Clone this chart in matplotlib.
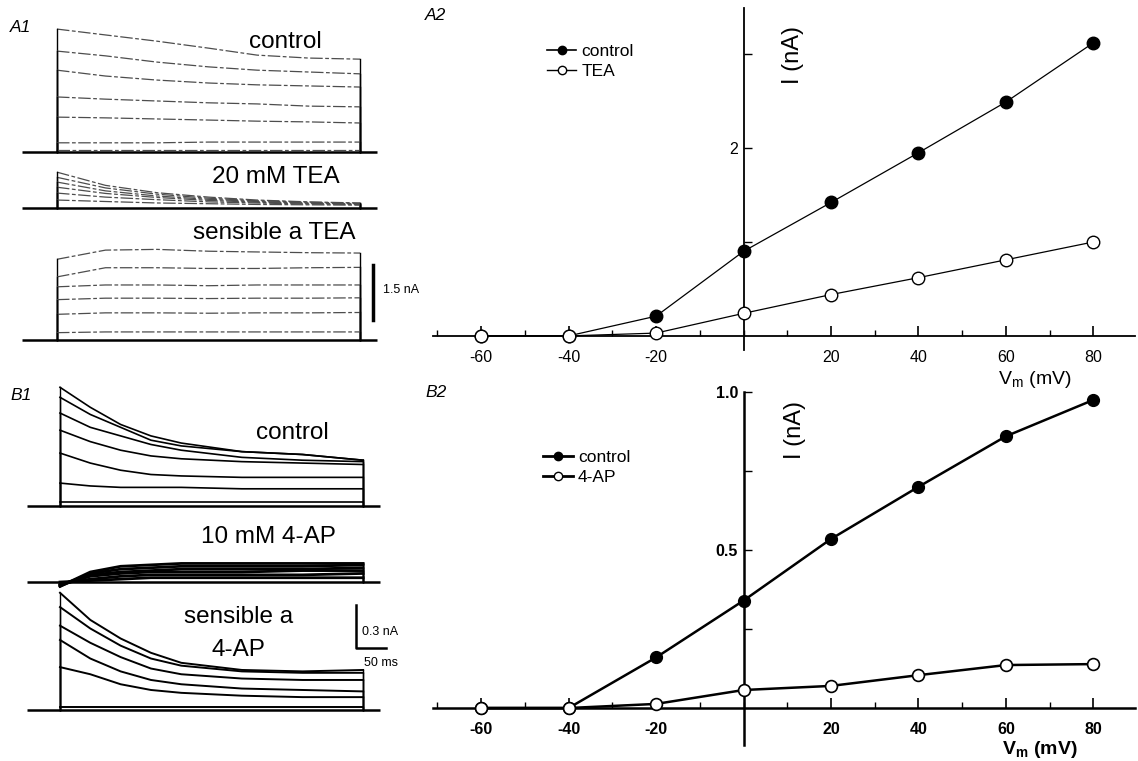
import numpy as np
import matplotlib.pyplot as plt
from matplotlib.lines import Line2D

plt.rcParams['font.family'] = ['Liberation Sans', 'DejaVu Sans']
plt.rcParams['mathtext.fontset'] = 'custom'
plt.rcParams['mathtext.rm'] = 'Liberation Sans'
plt.rcParams['mathtext.bf'] = 'Liberation Sans:bold'
plt.rcParams['axes.unicode_minus'] = False

W, H = 1138, 761

# ---- I-V data (nA) ----
vm = [-60, -40, -20, 0, 20, 40, 60, 80]
iv_ctrl_a = [0.0, 0.0, 0.21, 0.90, 1.42, 1.95, 2.49, 3.12]
iv_tea = [0.0, 0.0, 0.03, 0.24, 0.44, 0.62, 0.81, 1.00]
iv_ctrl_b = [0.0, 0.0, 0.16, 0.34, 0.535, 0.70, 0.86, 0.975]
iv_4ap = [0.0, 0.0, 0.013, 0.057, 0.07, 0.104, 0.136, 0.139]
vm_ticks = [-60, -40, -20, 20, 40, 60, 80]

# ---- current traces (nA), sampled during the 500 ms step ----
t_a = [0, 80, 165, 250, 330, 415, 500]
a1_control = [
    [3.35, 3.19, 3.02, 2.83, 2.64, 2.56, 2.53],
    [2.75, 2.62, 2.45, 2.32, 2.23, 2.18, 2.13],
    [2.23, 2.07, 1.96, 1.88, 1.83, 1.80, 1.77],
    [1.50, 1.44, 1.39, 1.34, 1.31, 1.25, 1.23],
    [0.95, 0.93, 0.90, 0.87, 0.84, 0.82, 0.79],
    [0.25, 0.25, 0.25, 0.27, 0.27, 0.27, 0.27],
    [0.05, 0.05, 0.05, 0.05, 0.05, 0.05, 0.05],
]
a1_tea = [
    [0.98, 0.62, 0.42, 0.30, 0.22, 0.17, 0.14],
    [0.84, 0.55, 0.38, 0.27, 0.20, 0.16, 0.13],
    [0.71, 0.47, 0.33, 0.24, 0.18, 0.14, 0.12],
    [0.57, 0.40, 0.29, 0.21, 0.16, 0.13, 0.11],
    [0.41, 0.30, 0.23, 0.17, 0.14, 0.11, 0.10],
    [0.22, 0.18, 0.14, 0.12, 0.10, 0.09, 0.08],
]
a1_sens = [
    [2.20, 2.45, 2.47, 2.42, 2.40, 2.38, 2.37],
    [1.72, 1.97, 1.97, 1.95, 1.95, 1.97, 1.98],
    [1.45, 1.50, 1.50, 1.48, 1.50, 1.50, 1.50],
    [1.10, 1.14, 1.14, 1.13, 1.14, 1.14, 1.15],
    [0.70, 0.74, 0.74, 0.73, 0.74, 0.74, 0.75],
    [0.20, 0.22, 0.22, 0.22, 0.22, 0.22, 0.22],
]

t_b = [0, 50, 100, 150, 200, 300, 400, 500]
b1_control = [
    [0.83, 0.69, 0.57, 0.49, 0.44, 0.38, 0.36, 0.32],
    [0.76, 0.64, 0.55, 0.46, 0.42, 0.38, 0.36, 0.32],
    [0.65, 0.55, 0.49, 0.43, 0.39, 0.34, 0.32, 0.31],
    [0.53, 0.45, 0.39, 0.35, 0.33, 0.31, 0.30, 0.29],
    [0.37, 0.30, 0.25, 0.22, 0.21, 0.20, 0.20, 0.20],
    [0.16, 0.14, 0.13, 0.13, 0.13, 0.12, 0.12, 0.12],
    [0.03, 0.03, 0.03, 0.03, 0.03, 0.03, 0.03, 0.03],
]
b1_4ap = [
    [-0.03, 0.07, 0.11, 0.12, 0.13, 0.13, 0.13, 0.13],
    [-0.03, 0.06, 0.09, 0.10, 0.11, 0.11, 0.11, 0.12],
    [-0.02, 0.05, 0.07, 0.08, 0.09, 0.09, 0.09, 0.10],
    [-0.02, 0.04, 0.06, 0.07, 0.07, 0.07, 0.08, 0.08],
    [-0.01, 0.02, 0.04, 0.05, 0.05, 0.05, 0.05, 0.06],
    [0.00, 0.01, 0.02, 0.03, 0.03, 0.03, 0.03, 0.03],
]
b1_sens = [
    [0.82, 0.63, 0.50, 0.40, 0.33, 0.28, 0.27, 0.28],
    [0.72, 0.57, 0.45, 0.36, 0.31, 0.27, 0.26, 0.26],
    [0.59, 0.47, 0.37, 0.29, 0.25, 0.22, 0.21, 0.21],
    [0.49, 0.36, 0.27, 0.21, 0.18, 0.15, 0.14, 0.13],
    [0.30, 0.25, 0.18, 0.14, 0.12, 0.10, 0.09, 0.09],
    [0.02, 0.02, 0.02, 0.02, 0.02, 0.02, 0.02, 0.02],
]


def rect(l, t, r, b):
    return [l / W, 1 - b / H, (r - l) / W, (b - t) / H]


def ftext(x, y, s, **kw):
    fig.text(x / W, 1 - y / H, s, **kw)


def draw_group(ax, t, traces, base, t0, t1, style, lw, col):
    ax.plot([t0, t1], [base, base], color='black', lw=1.8, solid_capstyle='butt')
    for tr in traces:
        v = base + np.array(tr)
        ax.plot(t, v, color=col, lw=lw, linestyle=style)
        ax.plot([t[0], t[0]], [base, v[0]], color='black', lw=1.0)
        ax.plot([t[-1], t[-1]], [base, v[-1]], color='black', lw=1.0)


fig = plt.figure(figsize=(W / 100, H / 100), dpi=100)

# ---- A1 traces ----
ax = fig.add_axes(rect(20, 10, 385, 360))
ax.set_xlim(-61, 541)
ax.set_ylim(0, 9.54)
ax.axis('off')
dash = (0, (10, 2, 3, 2))
draw_group(ax, t_a, a1_control, 5.67, -58, 528, dash, 0.9, '0.3')
draw_group(ax, t_a, a1_tea, 4.14, -58, 528, dash, 0.9, '0.3')
draw_group(ax, t_a, a1_sens, 0.545, -58, 528, dash, 0.9, '0.3')
ax.plot([521, 521], [1.09, 2.59], color='black', lw=2.5, clip_on=False)

# ---- B1 traces ----
ax = fig.add_axes(rect(23, 380, 388, 720))
ax.set_xlim(-61, 541)
ax.set_ylim(0, 2.378)
ax.axis('off')
draw_group(ax, t_b, b1_control, 1.497, -54, 528, '-', 1.2, 'black')
draw_group(ax, t_b, b1_4ap, 0.965, -54, 528, '-', 2.0, 'black')
draw_group(ax, t_b, b1_sens, 0.07, -54, 528, '-', 1.4, 'black')
ax.plot([488, 488, 538], [0.804, 0.503, 0.503], color='black', lw=1.8, clip_on=False)

big = 17.5
ftext(10, 28, 'A1', fontsize=12.5, style='italic', va='center')
ftext(285, 42, 'control', fontsize=big, ha='center', va='center')
ftext(276, 177, '20 mM TEA', fontsize=big, ha='center', va='center')
ftext(274, 233, 'sensible a TEA', fontsize=big, ha='center', va='center')
ftext(383, 290, '1.5 nA', fontsize=9, va='center')
ftext(10, 395, 'B1', fontsize=12.5, style='italic', va='center')
ftext(292, 433, 'control', fontsize=big, ha='center', va='center')
ftext(268, 537, '10 mM 4-AP', fontsize=big, ha='center', va='center')
ftext(239, 617, 'sensible a', fontsize=big, ha='center', va='center')
ftext(238, 650, '4-AP', fontsize=big, ha='center', va='center')
ftext(362, 632, '0.3 nA', fontsize=9, va='center')
ftext(364, 663, '50 ms', fontsize=9, va='center')


# ---- I-V plots ----
def iv_axes(r, ylim, yticks, ylabels, lw_axis, bold):
    ax = fig.add_axes(r)
    ax.set_xlim(-71, 89.5)
    ax.set_ylim(*ylim)
    for s in ['top', 'right']:
        ax.spines[s].set_visible(False)
    ax.spines['left'].set_position(('data', 0))
    ax.spines['bottom'].set_position(('data', 0))
    ax.spines['left'].set_linewidth(lw_axis)
    ax.spines['bottom'].set_linewidth(lw_axis)
    ax.set_xticks(vm_ticks)
    ax.set_xticks(np.arange(-70, 90, 10), minor=True)
    ax.set_yticks(yticks)
    ax.set_yticklabels(ylabels)
    ax.tick_params(axis='x', direction='in', length=7, width=1.2, pad=10,
                   labelsize=11.5)
    ax.tick_params(axis='x', which='minor', direction='in', length=4, width=1)
    ax.tick_params(axis='y', direction='in', length=6, width=1, pad=4,
                   labelsize=11.5)
    if bold:
        for lab in ax.get_xticklabels() + ax.get_yticklabels():
            lab.set_fontweight('bold')
    return ax


ax = iv_axes(rect(433, 8, 1135, 350), (-0.15, 3.49), [1, 2, 3], ['', '2', ''],
             1.3, False)
ax.plot(vm, iv_ctrl_a, color='black', lw=0.9, marker='o', ms=9,
        mfc='black', mec='black', clip_on=False, zorder=3)
ax.plot(vm, iv_tea, color='black', lw=0.9, marker='o', ms=9,
        mfc='white', mec='black', mew=1.0, clip_on=False, zorder=4)
h = [Line2D([], [], color='black', lw=1.2, marker='o', ms=6, mfc='black'),
     Line2D([], [], color='black', lw=1.0, marker='o', ms=6, mfc='white')]
ax.legend(h, ['control', 'TEA'], loc='upper left', bbox_to_anchor=(0.14, 0.94),
          frameon=False, fontsize=12.5, handlelength=1.7, handletextpad=0.3,
          labelspacing=0.25)
ftext(1035, 380, 'V$_\\mathrm{m}$ (mV)', fontsize=14, ha='center', va='center')
ftext(793, 55, 'I (nA)', fontsize=17, rotation=90, ha='center', va='center')
ftext(425, 15, 'A2', fontsize=12.5, style='italic', va='center')

ax = iv_axes(rect(433, 392, 1135, 745), (-0.117, 1.0), [0.25, 0.5, 0.75, 1.0],
             ['', '0.5', '', '1.0'], 1.8, True)
ax.plot(vm, iv_ctrl_b, color='black', lw=1.8, marker='o', ms=8.5,
        mfc='black', mec='black', clip_on=False, zorder=3)
ax.plot(vm, iv_4ap, color='black', lw=1.8, marker='o', ms=8.5,
        mfc='white', mec='black', mew=1.2, clip_on=False, zorder=4)
h = [Line2D([], [], color='black', lw=2, marker='o', ms=6, mfc='black'),
     Line2D([], [], color='black', lw=2, marker='o', ms=6, mfc='white')]
ax.legend(h, ['control', '4-AP'], loc='upper left', bbox_to_anchor=(0.135, 0.88),
          frameon=False, fontsize=12.5, handlelength=1.7, handletextpad=0.3,
          labelspacing=0.25)
ftext(1040, 750, 'V$_\\mathbf{m}$ (mV)', fontsize=14, fontweight='bold',
      ha='center', va='center')
ftext(795, 430, 'I (nA)', fontsize=17, rotation=90, ha='center', va='center')
ftext(425, 392, 'B2', fontsize=12.5, style='italic', va='center')

fig.savefig('out.png', dpi=100)
